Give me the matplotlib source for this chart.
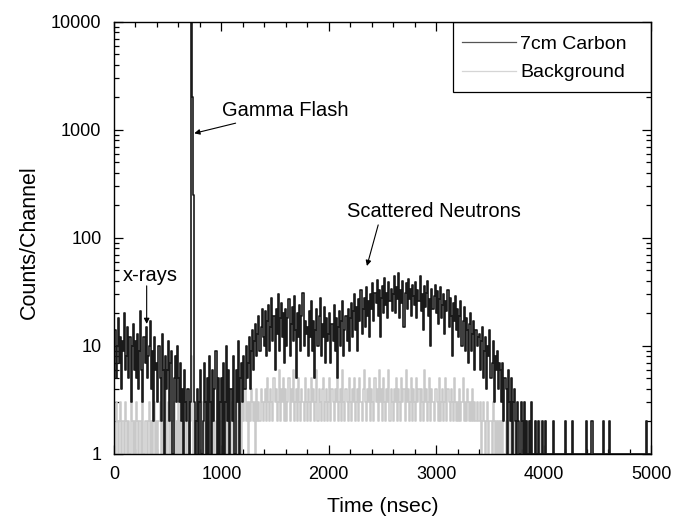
import numpy as np
import matplotlib
matplotlib.use("Agg")
import matplotlib.pyplot as plt
from matplotlib.ticker import MultipleLocator, LogLocator, NullFormatter, FixedLocator
from matplotlib.patches import Rectangle
from matplotlib.lines import Line2D

plt.rcParams['font.family'] = ['Liberation Sans', 'DejaVu Sans']

# channel width in ns
channel_ns = 10

# 7cm Carbon counts per channel (10 ns channels, 0..5000 ns)
carbon = [
    6, 14, 5, 10, 18, 7, 12, 4, 11, 9, 20, 6, 8, 15, 5, 12, 3, 10, 16, 6,
    11, 5, 13, 4, 9, 21, 6, 3, 12, 7, 15, 5, 8, 10, 17, 4, 9, 2, 12, 6,
    7, 3, 10, 5, 2, 13, 6, 1, 8, 4, 6, 11, 2, 7, 9, 1, 5, 8, 3, 10,
    5, 3, 7, 2, 4, 1, 6, 3, 2, 4, 1, 3, 10000, 2000, 250, 3, 1, 2, 4, 1,
    3, 6, 1, 2, 7, 3, 1, 5, 1, 8, 3, 1, 6, 2, 4, 9, 1, 5, 1, 3,
    5, 1, 7, 1, 3, 10, 2, 6, 1, 4, 2, 8, 1, 1, 6, 3, 11, 1, 5, 7,
    3, 8, 4, 10, 5, 7, 12, 4, 9, 14, 6, 11, 16, 8, 13, 19, 9, 15, 22, 12,
    10, 21, 8, 17, 24, 9, 15, 28, 11, 19, 6, 22, 13, 30, 9, 18, 25, 12, 20, 7,
    22, 10, 18, 27, 8, 16, 23, 11, 29, 14, 5, 20, 12, 24, 9, 19, 31, 10, 17, 13,
    15, 8, 21, 12, 26, 9, 17, 5, 14, 22, 10, 19, 28, 8, 16, 12, 23, 7, 18, 11,
    13, 20, 7, 16, 11, 24, 9, 18, 5, 15, 21, 10, 17, 26, 8, 14, 19, 11, 22, 9,
    18, 25, 12, 21, 30, 14, 23, 9, 27, 17, 33, 13, 22, 28, 15, 35, 19, 26, 12, 30,
    22, 38, 17, 31, 25, 41, 19, 33, 12, 28, 36, 20, 43, 24, 31, 18, 39, 26, 34, 21,
    30, 44, 20, 35, 27, 47, 18, 33, 25, 40, 15, 31, 38, 22, 42, 27, 34, 19, 37, 29,
    24, 39, 18, 33, 26, 44, 21, 30, 14, 36, 23, 31, 40, 19, 27, 10, 34, 22, 29, 37,
    20, 32, 16, 27, 35, 18, 24, 30, 13, 26, 21, 33, 15, 28, 19, 8, 25, 17, 29, 14,
    22, 12, 19, 26, 10, 17, 23, 9, 18, 14, 7, 16, 20, 9, 13, 17, 6, 14, 10, 12,
    13, 6, 11, 15, 5, 9, 12, 4, 10, 8, 14, 5, 7, 11, 3, 8, 6, 9, 4, 7,
    6, 3, 7, 2, 5, 4, 1, 6, 3, 2, 5, 1, 3, 4, 2, 1, 3, 2, 1, 3,
    2, 1, 3, 1, 2, 1, 1, 2, 1, 3, 1, 1, 2, 1, 1, 2, 1, 1, 1, 2,
    1, 1, 2, 1, 1, 1, 1, 1, 1, 2, 1, 1, 1, 1, 1, 1, 1, 1, 1, 1,
    2, 1, 1, 1, 1, 1, 1, 2, 1, 1, 1, 1, 1, 1, 1, 1, 1, 1, 1, 1,
    2, 1, 1, 1, 1, 2, 1, 1, 1, 1, 1, 1, 1, 1, 1, 1, 2, 1, 1, 1,
    1, 2, 1, 1, 1, 1, 1, 1, 1, 1, 1, 1, 1, 1, 1, 1, 1, 1, 1, 1,
    1, 1, 1, 1, 1, 1, 1, 1, 1, 1, 1, 1, 1, 1, 1, 1, 2, 1, 1, 1,
]

# Background counts per channel
background = [
    2, 1, 3, 2, 1, 2, 3, 1, 2, 2, 1, 3, 2, 1, 2, 1, 3, 2, 1, 2,
    1, 3, 2, 1, 2, 2, 1, 3, 1, 2, 2, 1, 2, 3, 1, 2, 1, 2, 3, 1,
    2, 1, 2, 3, 1, 2, 1, 2, 4, 1, 2, 3, 1, 2, 1, 2, 3, 1, 2, 1,
    3, 1, 2, 1, 2, 1, 3, 2, 1, 2, 1, 2, 8, 3, 1, 2, 1, 2, 1, 3,
    1, 2, 3, 1, 2, 1, 2, 3, 1, 2, 1, 3, 2, 1, 2, 1, 2, 3, 1, 2,
    2, 1, 2, 3, 1, 2, 1, 3, 2, 1, 3, 2, 1, 2, 3, 1, 2, 2, 3, 1,
    3, 2, 4, 2, 3, 1, 3, 2, 4, 3, 2, 3, 1, 4, 2, 3, 2, 4, 3, 2,
    3, 4, 2, 5, 3, 2, 4, 3, 2, 5, 3, 4, 2, 3, 6, 2, 4, 3, 5, 2,
    4, 2, 3, 5, 2, 4, 3, 6, 2, 3, 4, 2, 5, 3, 2, 4, 3, 2, 5, 3,
    2, 4, 3, 2, 5, 3, 4, 2, 3, 6, 2, 4, 3, 2, 4, 5, 2, 3, 4, 2,
    3, 5, 2, 4, 3, 2, 4, 3, 5, 2, 3, 4, 2, 6, 3, 2, 4, 3, 2, 5,
    3, 2, 4, 3, 5, 2, 3, 4, 2, 5, 3, 2, 4, 6, 3, 2, 4, 3, 5, 2,
    4, 3, 2, 5, 3, 4, 2, 6, 3, 4, 2, 5, 3, 2, 4, 3, 6, 2, 4, 3,
    2, 4, 3, 5, 2, 4, 3, 2, 5, 3, 4, 2, 6, 3, 4, 2, 3, 5, 2, 4,
    3, 2, 5, 3, 4, 2, 4, 3, 2, 6, 3, 4, 2, 3, 5, 2, 4, 3, 2, 4,
    4, 3, 2, 5, 2, 3, 4, 2, 3, 5, 2, 4, 3, 2, 4, 3, 2, 5, 3, 2,
    3, 2, 4, 2, 3, 5, 2, 3, 2, 4, 3, 2, 3, 2, 4, 2, 3, 2, 3, 2,
    2, 3, 1, 2, 3, 2, 1, 2, 3, 1, 2, 2, 1, 3, 2, 1, 2, 1, 2, 1,
    2, 1, 2, 1, 1, 2, 1, 2, 1, 1, 2, 1, 1, 2, 1, 1, 2, 1, 1, 1,
    1, 2, 1, 1, 2, 1, 1, 1, 2, 1, 1, 1, 2, 1, 1, 1, 1, 2, 1, 1,
    1, 1, 2, 1, 1, 1, 1, 1, 1, 1, 1, 1, 1, 1, 1, 1, 1, 1, 1, 1,
] + [1] * 80

series_labels = ["7cm Carbon", "Background"]
x_ticks = [0, 1000, 2000, 3000, 4000, 5000]
y_ticks = [1, 10, 100, 1000, 10000]
y_ticklabels = ["1", "10", "100", "1000", "10000"]

t_c = np.arange(len(carbon)) * channel_ns
t_b = np.arange(len(background)) * channel_ns

fig = plt.figure(figsize=(6.74, 5.21), dpi=100)
ax = fig.add_axes([0.169, 0.1286, 0.797, 0.8294])

ax.step(t_b, background, where='mid', color='#c9c9c9', lw=1.1, zorder=2)
ax.step(t_c, carbon, where='mid', color='#1a1a1a', lw=1.2, zorder=3)

ax.set_yscale('log')
ax.set_xlim(0, 5000)
ax.set_ylim(1, 10000)
ax.set_xticks(x_ticks)
ax.xaxis.set_minor_locator(MultipleLocator(200))
ax.yaxis.set_major_locator(FixedLocator(y_ticks))
ax.set_yticklabels(y_ticklabels)
ax.yaxis.set_minor_locator(LogLocator(base=10, subs=np.arange(2, 10)))
ax.yaxis.set_minor_formatter(NullFormatter())

ax.tick_params(which='both', direction='in', top=True, right=True, labelsize=13, width=0.9, pad=9)
ax.tick_params(which='major', length=6.5)
ax.tick_params(which='minor', length=3.5)
for s in ax.spines.values():
    s.set_linewidth(1.0)
    s.set_zorder(7)

ax.set_xlabel("Time (nsec)", fontsize=15.3)
ax.xaxis.set_label_coords(0.5, -0.10)
ax.set_ylabel("Counts/Channel", fontsize=15.5)
ax.yaxis.set_label_coords(-0.138, 0.49)

# legend with box spanning to the axes corner
lx0, ly0 = 0.631, 0.8387
ax.add_patch(Rectangle((lx0, ly0), 1 - lx0, 1 - ly0, transform=ax.transAxes,
                       facecolor='white', edgecolor='black', lw=0.9, zorder=5))
handles = [Line2D([], [], color='#555555', lw=0.9), Line2D([], [], color='#d5d5d5', lw=0.9)]
leg = ax.legend(handles, series_labels, loc='upper left', bbox_to_anchor=(lx0 - 0.0088, 1.0),
                fontsize=14, frameon=False, borderaxespad=0, handlelength=2.8,
                handletextpad=0.2, borderpad=0.69, labelspacing=0.56)
leg.set_zorder(6)

arrow = dict(arrowstyle='-|>', color='black', lw=0.8, mutation_scale=8)
ax.annotate("Gamma Flash", xy=(748, 930), xytext=(1010, 1500), fontsize=14.5,
            va='center', ha='left',
            arrowprops=dict(arrow, shrinkA=0, shrinkB=0))
ax.annotate("x-rays", xy=(305, 16), xytext=(340, 45), fontsize=14.5,
            va='center', ha='center')
ax.annotate("", xy=(305, 16), xytext=(305, 36),
            arrowprops=dict(arrow, shrinkA=0, shrinkB=0))
ax.annotate("Scattered Neutrons", xy=(2355, 55), xytext=(2980, 174), fontsize=14.5,
            va='center', ha='center')
ax.annotate("", xy=(2355, 55), xytext=(2460, 132),
            arrowprops=dict(arrow, shrinkA=0, shrinkB=0))

fig.savefig("out.png", dpi=100)
